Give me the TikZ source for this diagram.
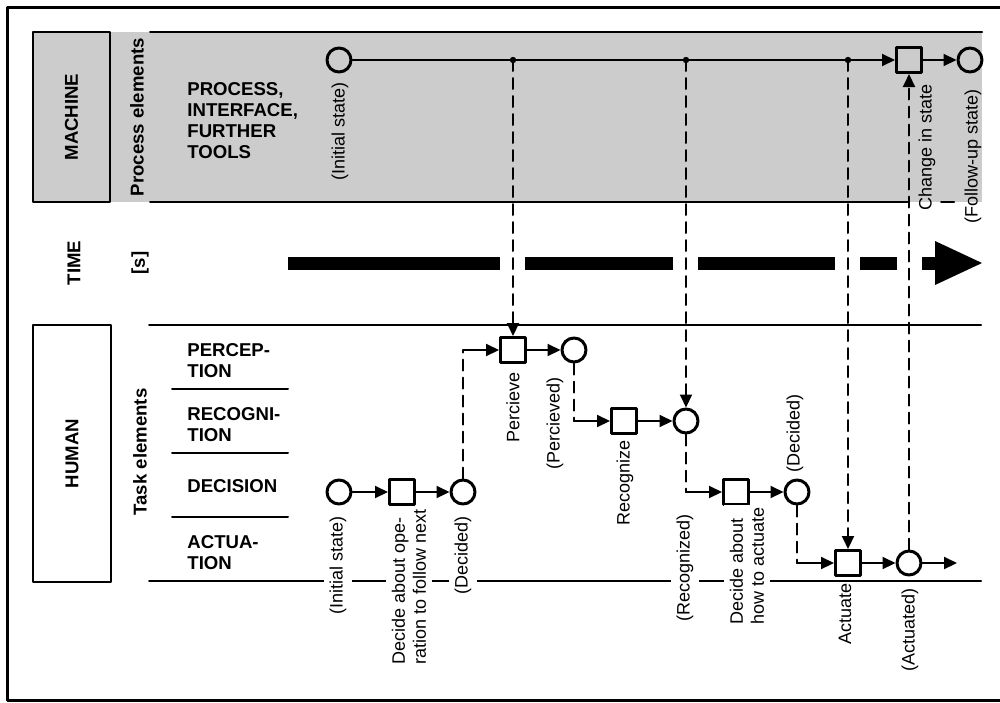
\documentclass[tikz,border=0pt]{standalone}
\usepackage{fontspec}
\setmainfont{Liberation Sans}
\usetikzlibrary{arrows.meta}

\definecolor{bandgray}{gray}{0.8}

\tikzset{
  state/.style={circle, draw, line width=1.5pt, minimum size=12pt, inner sep=0pt},
  act/.style={rectangle, draw, line width=1.5pt, minimum size=12.5pt, inner sep=0pt},
  flow/.style={->, line width=1pt},
  link/.style={line width=1pt, dash pattern=on 5.5pt off 3.5pt},
  lane/.style={line width=1pt},
  tag/.style={rotate=90, anchor=east, inner xsep=1pt, inner ysep=1pt},
  htag/.style={tag, fill=white, inner ysep=3pt},
  head/.style={font=\fontsize{9.3}{10.5}\selectfont\bfseries},
  timebar/.style={line width=6.5pt, line cap=butt}
}

\begin{document}
\begin{tikzpicture}[line cap=round,line join=round,>={Triangle[length=6.5pt,width=6pt]},x=0.5pt,y=-0.5pt,
  font=\fontsize{9}{10.5}\selectfont]
\clip (0,0) rectangle (1000,702);
\useasboundingbox (0,0) rectangle (1000,702);

% frame
\draw[line width=1.5pt, line cap=butt] (1010,7) -- (7,7) -- (7,700) -- (1010,700);

% machine band
\fill[bandgray] (110,32) rectangle (982,202);
\draw[lane] (150,32) -- (982,32);
\draw[lane] (150,202) -- (909,202);
\draw[lane] (941,202) -- (954,202);

\node[draw, line width=1.2pt, fill=bandgray, rotate=90, minimum width=85pt, minimum height=38.5pt, head] (machine) at (71.5,117) {MACHINE};
\node[rotate=90, head] (procel) at (137,117) {Process elements};
\node[anchor=north west, align=left, inner sep=0pt, head] (tools) at (187,82) {PROCESS,\\INTERFACE,\\FURTHER\\TOOLS};

% time
\node[rotate=90, head] (time) at (74,263) {TIME};
\node[rotate=90, head] (unit) at (140,263) {[s]};
\foreach \a/\b in {288/500, 525/673, 698/835, 860/897, 922/936}
  \draw[timebar] (\a,263) -- (\b,263);
\fill (935,241) -- (982,263) -- (935,285) -- cycle;

% human band
\draw[lane] (149,325) -- (981,325);
\draw[lane] (149,581) -- (981,581);
\foreach \y in {389,453,517}
  \draw[lane] (172,\y) -- (288,\y);

\node[draw, line width=1.2pt, rotate=90, minimum width=128.5pt, minimum height=39pt, head] (human) at (72,453.5) {HUMAN};
\node[rotate=90, head] (taskel) at (140,452) {Task elements};
\node[anchor=north west, align=left, inner sep=0pt, head] (perc) at (187,343) {PERCEP-\\TION};
\node[anchor=north west, align=left, inner sep=0pt, head] (recog) at (187,407) {RECOGNI-\\TION};
\node[anchor=north west, align=left, inner sep=0pt, head] (decis) at (187,479) {DECISION};
\node[anchor=north west, align=left, inner sep=0pt, head] (actua) at (187,535) {ACTUA-\\TION};

% machine states
\node[state] (ms0) at (339,60) {};
\node[act] (mchg) at (909,60) {};
\node[state] (ms1) at (970,60) {};
\coordinate (d1) at (513,60);
\coordinate (d2) at (686,60);
\coordinate (d3) at (848,60);

\draw[flow] (ms0) -- (mchg);
\draw[flow] (mchg) -- (ms1);
\foreach \d in {d1,d2,d3}
  \fill (\d) circle[radius=1.6pt];

% human states and tasks
\node[state] (hs0) at (339,492) {};
\node[act] (hdec) at (402,492) {};
\node[state] (hs1) at (463,492) {};
\node[act] (hper) at (513,350) {};
\node[state] (hs2) at (574,350) {};
\node[act] (hrec) at (624,421) {};
\node[state] (hs3) at (686,421) {};
\node[act] (hdec2) at (736,492) {};
\node[state] (hs4) at (797,492) {};
\node[act] (hact) at (848,563) {};
\node[state] (hs5) at (909,563) {};
\coordinate (hout) at (957,563);

\draw[flow] (hs0) -- (hdec);
\draw[flow] (hdec) -- (hs1);
\draw[link] (hs1) -- (hs1 |- hper);
\draw[flow] (hs1 |- hper) -- (hper);
\draw[flow] (hper) -- (hs2);
\draw[link] (hs2) -- (hs2 |- hrec);
\draw[flow] (hs2 |- hrec) -- (hrec);
\draw[flow] (hrec) -- (hs3);
\draw[link] (hs3) -- (hs3 |- hdec2);
\draw[flow] (hs3 |- hdec2) -- (hdec2);
\draw[flow] (hdec2) -- (hs4);
\draw[link] (hs4) -- (hs4 |- hact);
\draw[flow] (hs4 |- hact) -- (hact);
\draw[flow] (hact) -- (hs5);
\draw[flow] (hs5) -- (hout);

% machine <-> human
\draw[link,->] (d1) -- (hper);
\draw[link,->] (d2) -- (hs3);
\draw[link,->] (d3) -- (hact);
\draw[link,->] (hs5) -- (mchg);

% labels
\node[tag] (t0) at (340,80) {(Initial state)};
\node[tag] (t1) at (927,82) {Change in state};
\node[tag] (t2) at (973,87) {(Follow-up state)};

\node[htag] (t3) at (338,514) {(Initial state)};
\node[htag, align=left] (t4) at (409,507) {Decide about ope-\\ration to follow next};
\node[htag] (t5) at (463,514) {(Decided)};
\node[tag] (t6) at (513,370) {Percieve};
\node[tag] (t7) at (555,375) {(Percieved)};
\node[tag] (t8) at (625,438) {Recognize};
\node[htag] (t9) at (685,512) {(Recognized)};
\node[htag, align=left] (t10) at (747,505) {Decide about\\how to actuate};
\node[tag, anchor=west] (t11) at (795,475) {(Decided)};
\node[tag] (t12) at (845,581) {Actuate};
\node[tag] (t13) at (910,586) {(Actuated)};

\end{tikzpicture}
\end{document}
